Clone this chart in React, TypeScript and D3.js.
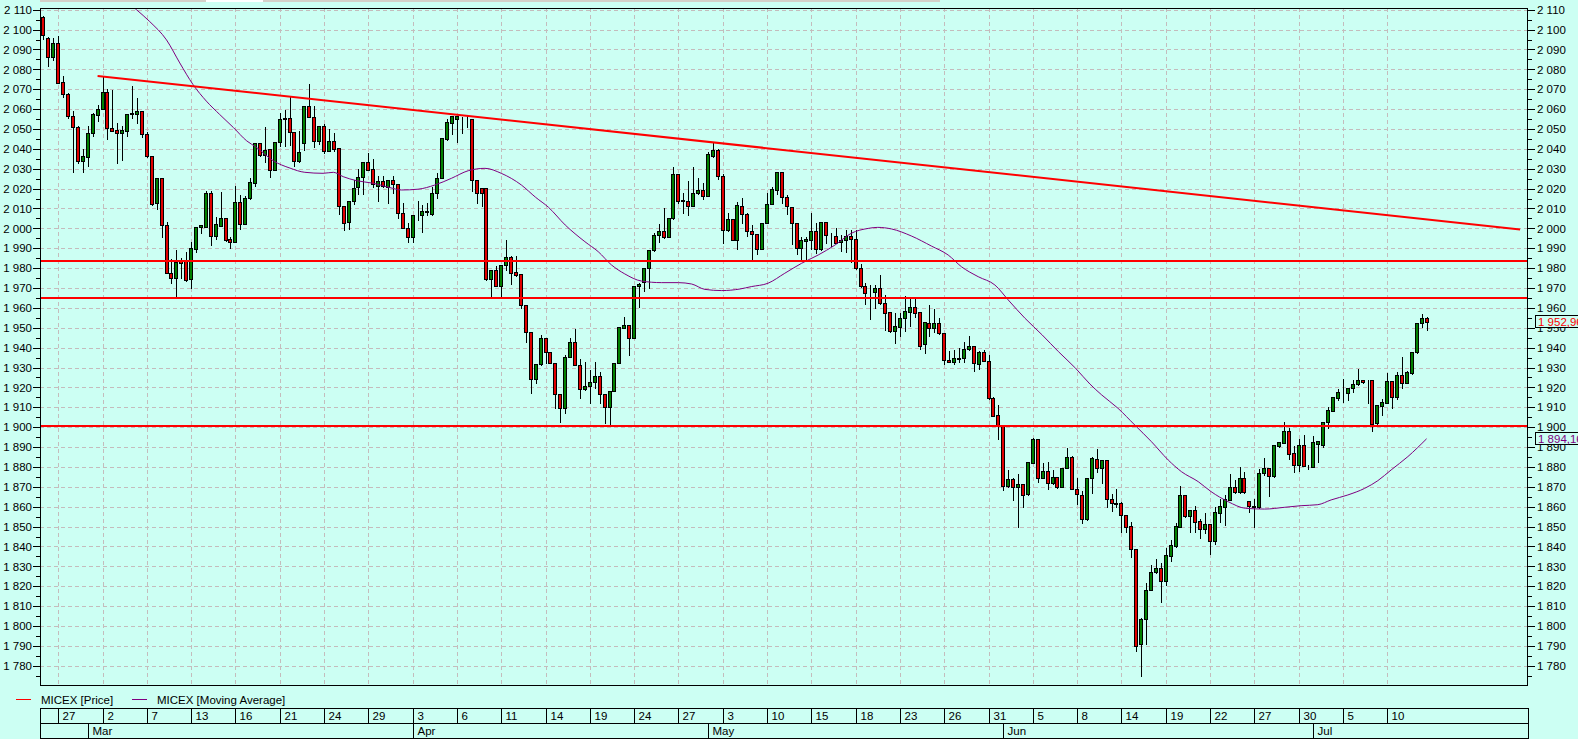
import React from 'react';
import * as d3 from 'd3';

// ---- OHLC data (one bar per slot) ----
const opens = [
  2106.2, 2095.7, 2086.0, 2093.2, 2073.7, 2067.8, 2056.5, 2051.2, 2034.0, 2036.0,
  2048.2, 2057.0, 2060.2, 2068.7, 2050.7, 2049.3, 2048.2, 2049.0, 2057.5, 2057.7,
  2058.8, 2047.7, 2036.5, 2012.7, 2025.2, 2001.5, 1977.7, 1975.2, 1983.5, 1983.5,
  1974.3, 1989.5, 2000.7, 2000.7, 2017.8, 1996.2, 2001.2, 2005.2, 1994.7, 1993.0,
  2013.2, 2002.0, 2015.3, 2022.8, 2042.7, 2037.0, 2039.8, 2029.5, 2043.2, 2054.8,
  2055.7, 2048.7, 2033.7, 2042.7, 2061.5, 2056.0, 2044.0, 2051.5, 2039.0, 2043.7,
  2040.2, 2011.5, 2003.2, 2013.7, 2020.7, 2026.0, 2033.2, 2029.8, 2021.5, 2024.0,
  2020.8, 2024.2, 2022.2, 2007.6, 2000.0, 1995.8, 2007.0, 2006.9, 2008.1, 2007.1,
  2017.6, 2025.5, 2045.0, 2053.2, 2054.9, 2055.0, 2055.0, 2055.0, 2024.2, 2020.1,
  2020.1, 1974.4, 1979.1, 1971.2, 1981.6, 1985.4, 1978.1, 1977.1, 1961.5, 1948.1,
  1924.1, 1931.6, 1944.7, 1937.7, 1932.1, 1916.5, 1909.8, 1935.5, 1942.7, 1931.3,
  1919.2, 1920.6, 1922.6, 1925.7, 1916.5, 1910.0, 1918.0, 1932.1, 1949.7, 1951.4,
  1944.7, 1971.0, 1973.2, 1979.9, 1989.1, 1996.7, 1998.7, 1995.8, 2005.1, 2027.4,
  2013.8, 2014.0, 2011.4, 2017.6, 2019.3, 2016.5, 2036.6, 2039.4, 2026.5, 1999.2,
  2004.7, 1994.0, 2011.4, 2007.1, 1998.9, 1997.0, 1989.5, 2002.5, 2012.3, 2019.3,
  2028.2, 2015.6, 2010.9, 2002.5, 1990.0, 1993.8, 1994.2, 1998.7, 1989.5, 2003.1,
  1996.2, 1996.2, 1993.3, 1994.2, 1996.3, 1994.5, 1979.9, 1971.0, 1967.8, 1968.2,
  1969.9, 1962.3, 1957.8, 1948.6, 1950.6, 1954.8, 1958.1, 1960.6, 1957.9, 1941.7,
  1952.6, 1949.8, 1952.6, 1947.2, 1933.8, 1932.6, 1934.1, 1934.6, 1939.2, 1940.8,
  1931.6, 1938.0, 1933.5, 1914.5, 1906.1, 1900.8, 1870.4, 1874.0, 1869.7, 1871.3,
  1866.2, 1882.2, 1893.9, 1874.6, 1878.0, 1872.1, 1874.8, 1870.1, 1879.3, 1884.8,
  1868.9, 1865.9, 1853.6, 1874.3, 1883.8, 1879.3, 1883.5, 1863.7, 1861.7, 1861.7,
  1855.8, 1850.3, 1838.6, 1790.8, 1803.4, 1818.1, 1827.3, 1829.0, 1822.8, 1835.4,
  1840.2, 1850.0, 1865.9, 1855.3, 1858.3, 1853.0, 1848.8, 1851.3, 1842.9, 1857.0,
  1860.0, 1863.4, 1869.8, 1867.6, 1874.3, 1863.0, 1860.0, 1859.7, 1876.8, 1879.3,
  1875.4, 1890.7, 1892.2, 1898.1, 1886.8, 1881.0, 1891.0, 1880.8, 1879.8, 1891.4,
  1891.0, 1902.8, 1908.3, 1914.8, 1917.5, 1917.4, 1919.5, 1921.5, 1923.7, 1923.4,
  1923.7, 1902.0, 1910.8, 1912.3, 1923.2, 1915.0, 1926.2, 1922.4, 1927.4, 1937.6,
  1952.2, 1954.8,
];
const highs = [
  2106.8, 2096.5, 2095.7, 2096.8, 2076.5, 2068.3, 2059.0, 2051.5, 2039.8, 2051.5,
  2058.2, 2062.0, 2076.8, 2070.3, 2069.5, 2053.2, 2051.5, 2057.3, 2071.5, 2065.7,
  2058.8, 2048.7, 2036.5, 2025.2, 2025.2, 2003.2, 1984.8, 1989.0, 1985.0, 1988.2,
  1993.2, 2000.7, 2001.8, 2018.7, 2018.7, 2005.7, 2018.5, 2005.2, 1995.7, 2021.3,
  2017.0, 2016.5, 2025.3, 2042.7, 2042.7, 2051.0, 2039.8, 2043.2, 2058.2, 2059.3,
  2066.5, 2048.7, 2049.0, 2061.5, 2072.7, 2061.5, 2051.5, 2052.7, 2049.8, 2048.2,
  2040.2, 2011.5, 2014.0, 2024.5, 2029.8, 2033.2, 2037.7, 2034.8, 2026.5, 2026.5,
  2024.5, 2026.5, 2022.2, 2012.9, 2002.9, 2006.6, 2013.8, 2011.6, 2012.6, 2020.6,
  2028.0, 2045.6, 2055.0, 2056.5, 2056.5, 2056.2, 2056.5, 2055.0, 2024.2, 2020.1,
  2020.1, 1979.1, 1981.1, 1981.6, 1994.1, 1986.1, 1986.1, 1977.1, 1961.5, 1948.1,
  1931.6, 1946.4, 1944.7, 1937.7, 1932.1, 1916.5, 1936.3, 1944.7, 1949.2, 1934.1,
  1932.9, 1928.8, 1932.6, 1927.9, 1916.5, 1918.2, 1932.1, 1950.2, 1955.6, 1951.4,
  1971.0, 1972.7, 1979.9, 1989.1, 1997.8, 2002.2, 2010.1, 2005.1, 2030.7, 2027.4,
  2017.6, 2023.8, 2030.7, 2025.2, 2022.7, 2038.6, 2043.6, 2039.9, 2027.4, 2007.6,
  2004.7, 2013.2, 2015.1, 2007.6, 2001.7, 1997.0, 2002.5, 2017.6, 2021.0, 2028.2,
  2028.2, 2016.8, 2010.9, 2002.5, 1995.5, 1995.8, 2007.6, 2002.9, 2003.1, 2003.1,
  1997.9, 2000.0, 1996.7, 1999.2, 1999.2, 1999.2, 1982.1, 1972.4, 1971.5, 1971.5,
  1976.5, 1966.5, 1958.1, 1957.3, 1957.6, 1966.0, 1965.7, 1964.3, 1957.9, 1952.7,
  1961.5, 1959.5, 1955.1, 1947.2, 1938.5, 1938.8, 1939.7, 1943.0, 1945.9, 1940.8,
  1938.5, 1938.8, 1936.3, 1915.0, 1911.2, 1900.8, 1878.5, 1874.3, 1876.3, 1871.3,
  1882.3, 1894.4, 1893.9, 1881.8, 1882.7, 1878.5, 1875.1, 1879.6, 1889.4, 1885.7,
  1874.3, 1867.9, 1874.3, 1885.2, 1889.0, 1883.5, 1883.5, 1866.4, 1868.7, 1862.5,
  1855.8, 1852.5, 1838.6, 1803.8, 1821.4, 1830.7, 1833.5, 1831.5, 1839.1, 1843.2,
  1852.0, 1870.4, 1865.9, 1858.3, 1860.5, 1853.6, 1857.0, 1851.3, 1860.0, 1863.7,
  1865.9, 1876.4, 1873.4, 1879.8, 1877.6, 1863.0, 1863.7, 1878.8, 1884.3, 1879.3,
  1891.0, 1892.7, 1902.8, 1899.4, 1890.7, 1893.9, 1896.1, 1881.0, 1895.6, 1893.0,
  1902.8, 1910.3, 1915.0, 1919.0, 1924.1, 1919.5, 1923.7, 1929.3, 1923.7, 1923.6,
  1923.7, 1911.2, 1914.2, 1927.1, 1923.2, 1927.9, 1935.5, 1928.3, 1937.6, 1952.2,
  1957.0, 1955.6,
];
const lows = [
  2095.2, 2081.8, 2084.5, 2073.0, 2066.2, 2055.7, 2028.2, 2032.8, 2028.2, 2031.5,
  2046.5, 2054.0, 2060.0, 2044.8, 2049.0, 2032.8, 2034.5, 2046.5, 2055.7, 2053.2,
  2046.2, 2035.7, 2011.8, 2009.8, 1995.7, 1977.7, 1972.7, 1966.2, 1975.0, 1973.7,
  1970.2, 1988.2, 1997.8, 2000.7, 1991.5, 1994.8, 2001.0, 1993.7, 1990.3, 1993.0,
  1999.5, 2002.0, 2014.8, 2021.5, 2036.5, 2033.2, 2025.7, 2029.5, 2041.5, 2041.5,
  2041.8, 2031.5, 2033.2, 2039.5, 2056.0, 2041.0, 2042.3, 2037.7, 2039.0, 2039.0,
  2007.3, 1999.0, 1999.8, 2012.3, 2017.3, 2017.3, 2029.5, 2020.7, 2014.0, 2021.0,
  2013.0, 2018.0, 2005.1, 2000.0, 1993.3, 1993.3, 2004.2, 1998.4, 2006.7, 2006.7,
  2015.5, 2025.2, 2044.5, 2047.6, 2043.6, 2047.8, 2051.2, 2019.0, 2012.6, 2011.3,
  1974.0, 1966.0, 1971.2, 1966.0, 1979.1, 1972.0, 1976.0, 1959.8, 1943.0, 1917.4,
  1922.4, 1931.3, 1932.1, 1932.1, 1909.8, 1902.8, 1906.9, 1935.5, 1931.3, 1914.8,
  1918.7, 1912.0, 1919.5, 1912.0, 1902.0, 1901.4, 1918.0, 1932.1, 1949.7, 1936.3,
  1944.7, 1960.6, 1968.7, 1969.8, 1988.8, 1993.3, 1995.0, 1995.8, 2004.6, 2012.6,
  2007.9, 2006.7, 2011.4, 2017.1, 2014.6, 2016.5, 2036.1, 2024.8, 1992.8, 1998.8,
  1994.2, 1989.8, 2002.9, 1996.2, 1983.8, 1987.0, 1989.5, 2002.5, 2012.3, 2017.3,
  2012.9, 2007.1, 1992.1, 1987.1, 1984.1, 1983.8, 1989.6, 1987.5, 1989.1, 1992.5,
  1991.2, 1992.5, 1988.8, 1988.3, 1983.3, 1979.4, 1970.7, 1962.0, 1954.4, 1959.8,
  1962.0, 1948.9, 1948.1, 1942.2, 1945.9, 1948.6, 1951.1, 1955.3, 1939.2, 1937.5,
  1945.9, 1948.1, 1946.9, 1931.6, 1932.6, 1931.6, 1933.0, 1932.6, 1938.8, 1928.3,
  1929.1, 1933.5, 1914.0, 1905.8, 1893.9, 1868.4, 1870.1, 1863.4, 1849.9, 1860.0,
  1865.9, 1881.8, 1872.2, 1874.3, 1868.7, 1871.4, 1869.3, 1869.7, 1879.3, 1868.9,
  1861.2, 1852.0, 1853.3, 1867.0, 1877.6, 1871.8, 1859.7, 1858.0, 1859.7, 1847.4,
  1847.4, 1834.9, 1787.6, 1775.0, 1790.8, 1818.1, 1826.5, 1812.2, 1820.6, 1832.8,
  1839.9, 1850.0, 1854.6, 1847.4, 1847.4, 1844.4, 1846.6, 1836.2, 1841.2, 1852.5,
  1850.8, 1863.4, 1866.7, 1867.0, 1866.7, 1857.5, 1850.0, 1859.2, 1876.0, 1865.5,
  1875.1, 1890.2, 1892.2, 1883.8, 1877.6, 1878.1, 1880.6, 1878.8, 1879.8, 1882.6,
  1890.2, 1899.8, 1908.3, 1913.7, 1912.8, 1913.7, 1917.9, 1921.2, 1922.1, 1912.3,
  1898.2, 1901.1, 1906.1, 1912.3, 1909.5, 1914.0, 1919.9, 1922.1, 1926.7, 1937.1,
  1950.6, 1948.9,
];
const closes = [
  2097.5, 2086.2, 2093.2, 2073.0, 2067.7, 2056.5, 2051.2, 2034.0, 2036.3, 2048.2,
  2057.3, 2060.2, 2068.7, 2050.7, 2049.0, 2048.2, 2049.3, 2057.3, 2057.8, 2058.8,
  2047.7, 2036.5, 2012.3, 2025.2, 2001.5, 1977.7, 1974.8, 1983.2, 1982.5, 1974.0,
  1990.2, 2000.7, 2001.5, 2017.8, 1996.2, 2002.3, 2005.2, 1994.0, 1993.0, 2013.2,
  2002.0, 2015.3, 2023.2, 2042.7, 2037.0, 2039.5, 2029.5, 2043.2, 2054.8, 2055.7,
  2048.7, 2033.7, 2038.2, 2061.5, 2056.0, 2044.0, 2051.5, 2039.0, 2043.7, 2039.8,
  2011.5, 2002.7, 2013.7, 2020.3, 2026.0, 2033.2, 2029.5, 2022.3, 2024.0, 2021.5,
  2024.5, 2022.3, 2007.6, 2000.0, 1995.8, 2006.6, 2007.3, 2008.9, 2008.7, 2017.8,
  2025.5, 2045.6, 2053.3, 2056.5, 2056.5, 2055.1, 2055.0, 2024.2, 2018.0, 2018.0,
  1974.4, 1979.1, 1971.2, 1981.6, 1985.4, 1977.7, 1976.7, 1961.5, 1948.1, 1924.1,
  1931.6, 1944.7, 1937.7, 1932.1, 1916.5, 1909.8, 1935.5, 1942.7, 1931.3, 1919.2,
  1920.7, 1922.6, 1925.7, 1916.5, 1910.0, 1918.2, 1932.1, 1950.2, 1951.4, 1944.7,
  1971.0, 1972.0, 1979.9, 1989.1, 1996.7, 1998.7, 1995.8, 2005.1, 2027.4, 2013.9,
  2014.3, 2011.4, 2017.6, 2019.3, 2016.5, 2037.4, 2039.4, 2026.5, 1999.2, 2004.7,
  1994.2, 2011.8, 2007.1, 1998.9, 1997.0, 1989.5, 2002.5, 2012.3, 2019.8, 2028.2,
  2015.6, 2011.3, 2002.5, 1990.0, 1994.2, 1994.7, 1998.7, 1989.5, 2003.1, 1996.7,
  1996.3, 1992.8, 1994.2, 1996.3, 1994.5, 1979.9, 1971.2, 1967.7, 1967.8, 1969.9,
  1962.3, 1957.6, 1948.6, 1950.9, 1954.8, 1958.4, 1960.6, 1957.6, 1940.8, 1952.7,
  1950.1, 1952.6, 1947.2, 1933.8, 1932.6, 1934.6, 1934.6, 1939.2, 1940.8, 1932.1,
  1938.0, 1933.5, 1914.5, 1905.8, 1900.8, 1870.6, 1874.0, 1869.7, 1871.3, 1865.9,
  1882.3, 1893.9, 1874.6, 1878.0, 1872.1, 1874.8, 1870.1, 1879.3, 1884.8, 1868.9,
  1866.2, 1853.6, 1874.3, 1884.3, 1879.3, 1883.5, 1863.7, 1861.7, 1861.6, 1855.8,
  1849.9, 1838.6, 1790.1, 1803.4, 1818.1, 1827.3, 1829.0, 1822.8, 1835.7, 1840.7,
  1850.3, 1865.9, 1855.3, 1858.3, 1852.5, 1848.8, 1851.3, 1842.9, 1857.5, 1860.4,
  1863.7, 1869.8, 1867.6, 1874.3, 1867.6, 1860.4, 1860.4, 1877.1, 1879.3, 1875.4,
  1891.0, 1892.7, 1898.1, 1886.5, 1881.0, 1891.0, 1880.6, 1881.0, 1892.4, 1893.0,
  1902.8, 1908.6, 1915.0, 1917.5, 1917.6, 1919.5, 1921.7, 1923.7, 1922.6, 1923.3,
  1901.6, 1911.2, 1912.8, 1923.2, 1915.0, 1926.2, 1922.4, 1927.9, 1937.6, 1952.2,
  1954.8, 1952.96,
];

// ---- Moving average (read points: bar position, value) ----
const maBar = [
  17, 18.9, 21.6, 25, 27.7, 30.4, 33.1, 35.8, 38.6, 41.3, 43.3, 46.7, 50.1, 53.1, 56.8, 58.9,
  60.9, 63.6, 67, 70.4, 72.7, 76.1, 79.5, 82.9, 86.3, 89.7, 93, 97.1, 100, 102.6, 106, 110,
  112.7, 115.4, 118.1, 121.5, 125.6, 129, 131.7, 134.4, 137.8, 141.5, 143.8, 147.2, 150.6, 154,
  157.4, 160.8, 164.1, 167.6, 169.5, 172.3, 176.3, 180.4, 183.8, 186.5, 189.9, 193.3, 196,
  199.4, 202.9, 206.2, 209.7, 212.6, 215, 218.3, 221.7, 225.1, 228.5, 231.2, 234.6, 237.2,
  240.7, 244.2, 248.1, 252.2, 255.5, 258.9, 261.6, 265, 268.4, 271.1, 273.8, 277.2, 281,
];
const maValue = [
  2114, 2110, 2104, 2094.8, 2083.2, 2072.3, 2064, 2057.3, 2050.7, 2044, 2040.7, 2034, 2030.3,
  2028.2, 2027.7, 2028.2, 2026, 2024, 2022.7, 2020.5, 2019.3, 2019.7, 2021.8, 2025.2, 2029,
  2030.2, 2027.7, 2021.8, 2015.6, 2010.6, 2001.7, 1993.3, 1988.3, 1981.6, 1977.1, 1973.5,
  1972.7, 1972.7, 1972, 1969.3, 1968.7, 1969.5, 1970.7, 1972.4, 1977.4, 1982.4, 1986.6,
  1991.6, 1997.5, 2000, 2000.5, 1999.7, 1996.2, 1991.1, 1986.6, 1980.7, 1975.7, 1971.5, 1964,
  1954.8, 1946.4, 1938, 1929.6, 1921.7, 1916.2, 1909.5, 1901.1, 1892.7, 1883.5, 1877.6,
  1872.6, 1867.6, 1862.5, 1859.2, 1858.8, 1859.7, 1860.5, 1861, 1863.4, 1865.9, 1869.2,
  1873.1, 1878.5, 1885.2, 1894.16,
];

// ---- Study lines ----
const supportLevels = [1983.5, 1965, 1900.5];
const trendBars = [11, 300];
const trendValues = [2076.7, 1999.4];
const lastPrice = 1952.96;
const lastMA = 1894.16;

// ---- Axis labels ----
const dayLabels = ['27', '2', '7', '13', '16', '21', '24', '29', '3', '6', '11', '14', '19', '24', '27',
  '3', '10', '15', '18', '23', '26', '31', '5', '8', '14', '19', '22', '27', '30', '5', '10'];
const dayLabelBars = [3, 12, 21, 30, 39, 48, 57, 66, 75, 84, 93, 102, 111, 120, 129, 138, 147, 156,
  165, 174, 183, 192, 201, 210, 219, 228, 237, 246, 255, 264, 273];
const monthLabels = ['Mar', 'Apr', 'May', 'Jun', 'Jul'];
const monthStartBars = [9, 75, 135, 195, 258];
const legendItems = ['MICEX [Price]', 'MICEX [Moving Average]'];

const W = 1578;
const H = 739;
const BG = '#ccfff3';
const FONT = "'Liberation Sans',Arial,sans-serif";
const UP = '#008000';
const DOWN = '#e00000';
const PURPLE = '#800080';

const L = 40, R = 1528, T = 8, B = 686;

const loc = d3.formatLocale({ decimal: ',', thousands: ' ', grouping: [3], currency: ['', ''] });
const fmtInt = loc.format(',d');
const fmt2 = loc.format(',.2f');

export default function App() {
  const x = d3.scaleLinear().domain([-0.7, 301.6]).range([L, R]);
  const y = d3.scaleLinear().domain([1769.8, 2110.85]).range([B, T]);

  const majorTicks = d3.range(1780, 2111, 10);
  const minorTicks = d3.range(1775, 2111, 10);

  const maLine = d3.line<number>()
    .x((_, i) => x(maBar[i]))
    .y((v) => y(v))
    .curve(d3.curveMonotoneX)(maValue) || '';

  const px = (v: number) => Math.round(v) + 0.5;

  const rowTop = 708.5, rowMid = 723.5, rowBot = 738.5;

  return (
    <svg width={W} height={H} style={{ position: 'absolute', left: 0, top: 0, display: 'block' }}
      fontFamily={FONT} fontSize={11.5}>
      <defs>
        <clipPath id="plotClip">
          <rect x={L} y={T} width={R - L} height={B - T} />
        </clipPath>
      </defs>
      <rect x={0} y={0} width={W} height={H} fill={BG} />

      {/* top tab strip */}
      <rect x={40} y={0} width={900} height={2} fill="#d4d0c8" />
      <rect x={206} y={0} width={57} height={2} fill="#ffffff" />

      {/* grid */}
      <g shapeRendering="crispEdges" stroke="#c4bcbc" strokeDasharray="4 3" strokeWidth={1}>
        {majorTicks.map((v) => (
          <line key={'h' + v} x1={L} x2={R} y1={px(y(v))} y2={px(y(v))} />
        ))}
        {dayLabelBars.map((b) => (
          <line key={'v' + b} x1={px(x(b))} x2={px(x(b))} y1={T} y2={B} />
        ))}
      </g>

      <g clipPath="url(#plotClip)">
        {/* candles */}
        <g shapeRendering="crispEdges">
          {opens.map((o, i) => {
            const c = closes[i];
            const cx = px(x(i));
            const top = Math.round(y(Math.max(o, c)));
            const bot = Math.round(y(Math.min(o, c)));
            const hi = Math.max(highs[i], o, c);
            const lo = Math.min(lows[i], o, c);
            return (
              <g key={i}>
                <line x1={cx} x2={cx} y1={Math.round(y(hi))} y2={Math.round(y(lo)) + 1} stroke="#000" />
                <rect x={cx - 2} y={top + 0.5} width={3} height={Math.max(bot - top, 0)}
                  fill={c >= o ? UP : DOWN} stroke="#000" strokeWidth={1} />
              </g>
            );
          })}
        </g>

        {/* moving average */}
        <path d={maLine} fill="none" stroke={PURPLE} strokeWidth={1} />

        {/* horizontal levels */}
        <g shapeRendering="crispEdges">
          {supportLevels.map((v) => (
            <line key={'s' + v} x1={L} x2={R} y1={Math.round(y(v))} y2={Math.round(y(v))}
              stroke="#ff0000" strokeWidth={2} />
          ))}
        </g>
        {/* trend line */}
        <line x1={x(trendBars[0])} y1={y(trendValues[0])} x2={x(trendBars[1])} y2={y(trendValues[1])}
          stroke="#ff0000" strokeWidth={2} />
      </g>

      {/* frame */}
      <rect x={L + 0.5} y={T + 0.5} width={R - L - 1} height={B - T - 1} fill="none" stroke="#000"
        shapeRendering="crispEdges" />

      {/* axes ticks */}
      <g shapeRendering="crispEdges" stroke="#000">
        {majorTicks.map((v) => (
          <line key={'lt' + v} x1={33} x2={L} y1={px(y(v))} y2={px(y(v))} />
        ))}
        {minorTicks.map((v) => (
          <line key={'lm' + v} x1={36} x2={L} y1={px(y(v))} y2={px(y(v))} />
        ))}
        {majorTicks.map((v) => (
          <line key={'rt' + v} x1={R} x2={R + 7} y1={px(y(v))} y2={px(y(v))} />
        ))}
        {minorTicks.map((v) => (
          <line key={'rm' + v} x1={R} x2={R + 4} y1={px(y(v))} y2={px(y(v))} />
        ))}
      </g>
      {majorTicks.map((v) => (
        <text key={'ll' + v} x={32} y={y(v) + 4.2} textAnchor="end" fill="#000">{fmtInt(v)}</text>
      ))}
      {majorTicks.map((v) => (
        <text key={'rl' + v} x={R + 9} y={y(v) + 4.2} textAnchor="start" fill="#000">{fmtInt(v)}</text>
      ))}

      {/* last value boxes */}
      {[{ v: lastPrice, col: '#ff0000' }, { v: lastMA, col: PURPLE }].map((d) => (
        <g key={'box' + d.v}>
          <rect x={R + 7.5} y={Math.round(y(d.v)) - 6.5} width={60} height={12} fill={BG} stroke="#000"
            shapeRendering="crispEdges" />
          <text x={R + 10} y={y(d.v) + 4.2} fill={d.col}>{fmt2(d.v)}</text>
        </g>
      ))}

      {/* legend */}
      <line x1={16} x2={31} y1={699.5} y2={699.5} stroke="#ff0000" shapeRendering="crispEdges" />
      <text x={41} y={703.5} fill="#000">{legendItems[0]}</text>
      <line x1={132} x2={147} y1={699.5} y2={699.5} stroke={PURPLE} shapeRendering="crispEdges" />
      <text x={157} y={703.5} fill="#000">{legendItems[1]}</text>

      {/* date table */}
      <g shapeRendering="crispEdges" stroke="#000" fill="none">
        <rect x={L + 0.5} y={rowTop} width={R - L} height={rowBot - rowTop} />
        <line x1={L} x2={R + 0.5} y1={rowMid} y2={rowMid} />
        {dayLabelBars.map((b) => (
          <line key={'dt' + b} x1={px(x(b))} x2={px(x(b))} y1={rowTop} y2={rowMid} />
        ))}
        {monthStartBars.map((b) => (
          <line key={'mt' + b} x1={px(x(b))} x2={px(x(b))} y1={rowMid} y2={rowBot} />
        ))}
      </g>
      {dayLabels.map((t, i) => (
        <text key={'dl' + i} x={px(x(dayLabelBars[i])) + 4} y={719.5} fill="#000">{t}</text>
      ))}
      {monthLabels.map((t, i) => (
        <text key={'ml' + i} x={px(x(monthStartBars[i])) + 4} y={735} fill="#000">{t}</text>
      ))}
    </svg>
  );
}
